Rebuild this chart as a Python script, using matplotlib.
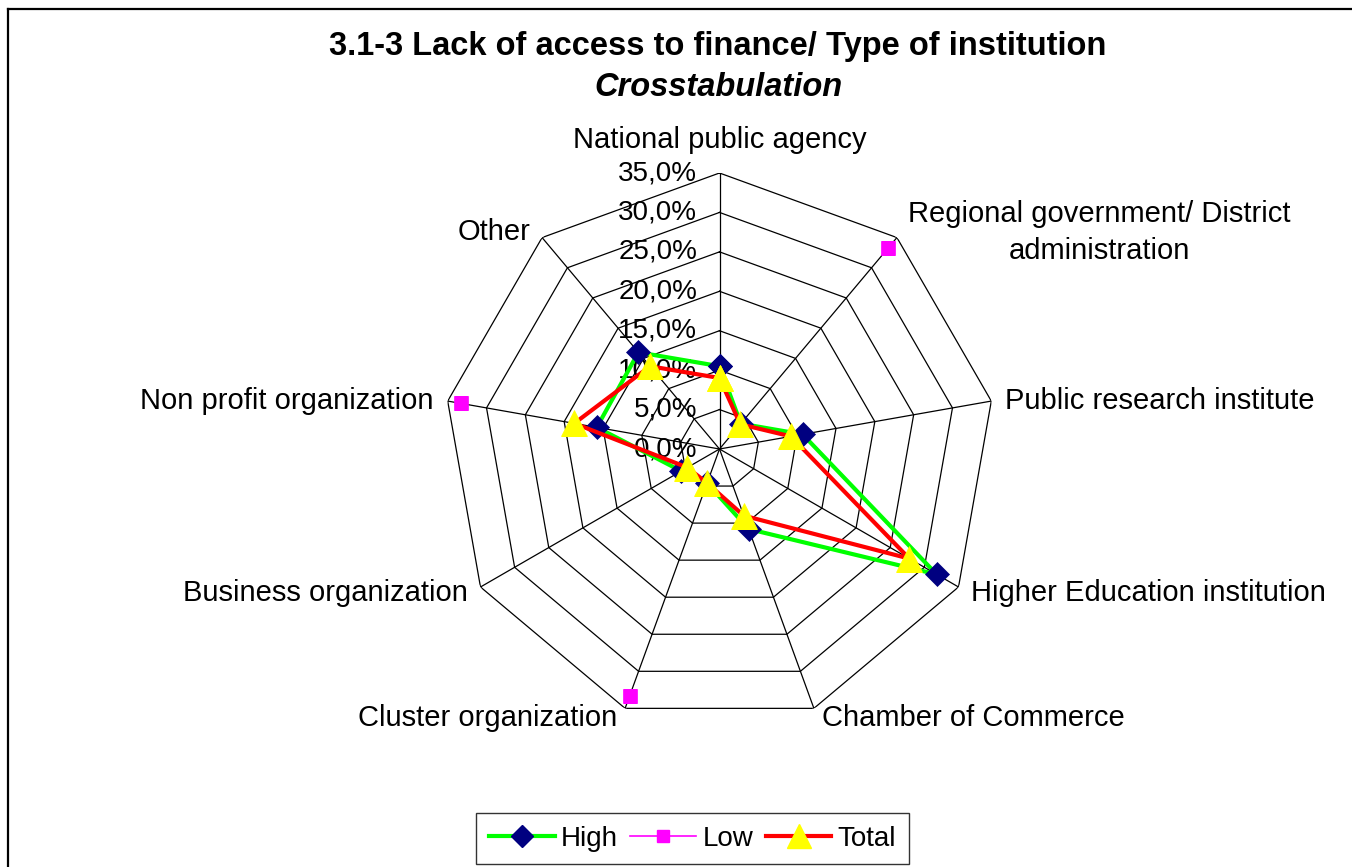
import numpy as np
import matplotlib
matplotlib.use("Agg")
import matplotlib.pyplot as plt
from matplotlib.lines import Line2D

plt.rcParams['font.family'] = ['Liberation Sans', 'DejaVu Sans']

categories = ["National public agency", "Regional government/ District\nadministration",
              "Public research institute", "Higher Education institution",
              "Chamber of Commerce", "Cluster organization", "Business organization",
              "Non profit organization", "Other"]
high = [10.5, 4.2, 10.7, 31.8, 10.8, 4.6, 5.6, 15.8, 16.0]
low = [np.nan, 33.3, np.nan, np.nan, np.nan, 33.3, np.nan, 33.3, np.nan]
total = [9.0, 4.1, 9.2, 27.8, 9.0, 4.6, 4.7, 18.7, 13.7]
rticks = [0, 5, 10, 15, 20, 25, 30, 35]
rtick_labels = ["0,0%", "5,0%", "10,0%", "15,0%", "20,0%", "25,0%", "30,0%", "35,0%"]
title_line1 = "3.1-3 Lack of access to finance/ Type of institution"
title_line2 = "Crosstabulation"

W, H = 1352, 867
fig = plt.figure(figsize=(W / 100, H / 100), dpi=100)

cx, cy, R = 719.5, 449, 276
ax = fig.add_axes([(cx - R) / W, (H - cy - R) / H, 2 * R / W, 2 * R / H], projection='polar')
ax.set_theta_offset(np.pi / 2)
ax.set_theta_direction(-1)
ax.set_ylim(0, 35)
ax.grid(False)
ax.spines['polar'].set_visible(False)
ax.set_xticks([])
ax.set_yticks([])
ax.patch.set_alpha(0)

n = len(categories)
theta = np.arange(n) * 2 * np.pi / n
theta_c = np.append(theta, theta[0])

# polygon grid
for r in rticks[1:]:
    ax.plot(theta_c, [r] * (n + 1), color='black', lw=0.9, zorder=1)
for t in theta:
    ax.plot([t, t], [0, 35], color='black', lw=0.9, zorder=1)

# radial tick labels
for r, lab in zip(rticks, rtick_labels):
    ax.annotate(lab, xy=(0, r), xytext=(-16, 0), textcoords='offset points',
                ha='right', va='center', fontsize=20, zorder=0.5)

# category labels
label_specs = [
    ((0, 14), 'center', 'bottom'),
    ((8, 3.5), 'left', 'center'),
    ((10, 0), 'left', 'center'),
    ((9, -4), 'left', 'center'),
    ((6, -7), 'left', 'center'),
    ((-6, -7), 'right', 'center'),
    ((-9, -4), 'right', 'center'),
    ((-10, 0), 'right', 'center'),
    ((-8, 4), 'right', 'center'),
]
for t, lab, (off, ha, va) in zip(theta, categories, label_specs):
    ax.annotate(lab, xy=(t, 35), xytext=off, textcoords='offset points',
                ha=ha, va=va, fontsize=21, multialignment='center', linespacing=1.42,
                annotation_clip=False)

high_c = np.append(high, high[0])
low_c = np.append(low, low[0])
total_c = np.append(total, total[0])

ax.plot(theta_c, high_c, color='#00ff00', lw=3, marker='D', markersize=12,
        markerfacecolor='#000080', markeredgecolor='#000080', markeredgewidth=0.5, zorder=3)
ax.plot(theta_c, low_c, color='#ff00ff', lw=1.2, marker='s', markersize=9.5,
        markerfacecolor='#ff00ff', markeredgecolor='#ff00ff', markeredgewidth=0.5, zorder=3)
ax.plot(theta_c, total_c, color='#ff0000', lw=3, marker='^', markersize=19,
        markerfacecolor='#ffff00', markeredgecolor='#ffff00', markeredgewidth=0.5, zorder=4)

# titles
fig.text(718 / W, 1 - 47 / H, title_line1, ha='center', va='center', fontsize=23.5, fontweight='bold')
fig.text(718 / W, 1 - 88 / H, title_line2, ha='center', va='center', fontsize=23.5,
         fontweight='bold', fontstyle='italic')

# legend
handles = [
    Line2D([], [], color='#00ff00', lw=3, marker='D', markersize=11, markerfacecolor='#000080',
           markeredgecolor='#000080'),
    Line2D([], [], color='#ff00ff', lw=1.2, marker='s', markersize=9, markerfacecolor='#ff00ff',
           markeredgecolor='#ff00ff'),
    Line2D([], [], color='#ff0000', lw=3, marker='^', markersize=17, markerfacecolor='#ffff00',
           markeredgecolor='#ffff00'),
]
leg = fig.legend(handles, ["High", "Low", "Total"], loc='center', bbox_to_anchor=(692.5 / W, 1 - 838.5 / H),
                 ncol=3, fontsize=20, frameon=True, fancybox=False, shadow=False,
                 handlelength=2.37, handletextpad=0.22, columnspacing=0.45, borderpad=0.45,
                 borderaxespad=0)
leg.get_frame().set_edgecolor('black')
leg.get_frame().set_linewidth(1.0)

# figure border
fig.add_artist(Line2D([8 / W, 1], [1 - 9 / H, 1 - 9 / H], color='black', lw=1.6, transform=fig.transFigure))
fig.add_artist(Line2D([8 / W, 8 / W], [0, 1 - 9 / H], color='black', lw=1.6, transform=fig.transFigure))

fig.savefig("out.png", dpi=100)
